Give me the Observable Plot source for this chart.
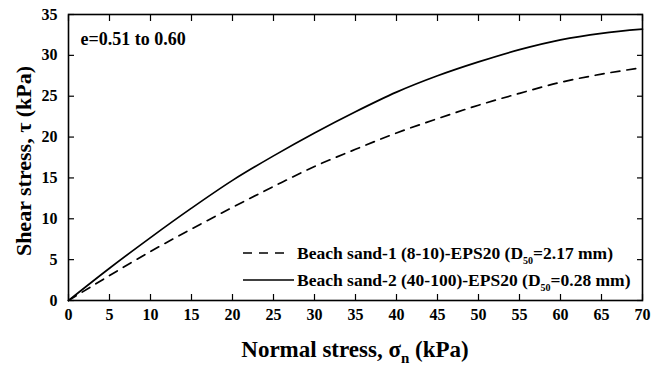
<!DOCTYPE html>
<html>
<head>
<meta charset="utf-8">
<script src="https://cdn.jsdelivr.net/npm/d3@7"></script>
<script src="https://cdn.jsdelivr.net/npm/@observablehq/plot@0.6"></script>
<style>
  body { margin: 0; background: #fff; }
  #chart svg { display: block; }
</style>
</head>
<body>
<div id="chart"></div>
<script>
// Normal stress (kPa)
const normalStress = [0, 5, 10, 15, 20, 25, 30, 35, 40, 45, 50, 55, 60, 65, 70];
// Beach sand-1 (8-10)-EPS20 (D50=2.17 mm) – dashed
const sand1Shear = [0, 3.05, 6.0, 8.75, 11.4, 13.95, 16.4, 18.5, 20.5, 22.25, 23.9, 25.35, 26.7, 27.7, 28.5];
// Beach sand-2 (40-100)-EPS20 (D50=0.28 mm) – solid
const sand2Shear = [0, 3.95, 7.7, 11.3, 14.7, 17.7, 20.5, 23.1, 25.5, 27.5, 29.2, 30.7, 31.9, 32.7, 33.2];

const seriesNames = [
  "Beach sand-1 (8-10)-EPS20 (D50=2.17 mm)",
  "Beach sand-2 (40-100)-EPS20 (D50=0.28 mm)"
];
const xTicks = [0, 5, 10, 15, 20, 25, 30, 35, 40, 45, 50, 55, 60, 65, 70];
const yTicks = [0, 5, 10, 15, 20, 25, 30, 35];
const annotation = "e=0.51 to 0.60";

const rows1 = normalStress.map((x, i) => ({x, y: sand1Shear[i]}));
const rows2 = normalStress.map((x, i) => ({x, y: sand2Shear[i]}));

const font = "Liberation Serif";

const chart = Plot.plot({
  width: 652,
  height: 366,
  marginLeft: 68,
  marginRight: 10,
  marginTop: 14,
  marginBottom: 66,
  style: {fontFamily: font, fontSize: "16px", fontWeight: "bold", color: "#000", background: "#fff"},
  x: {domain: [0, 70]},
  y: {domain: [0, 35]},
  marks: [
    Plot.frame({stroke: "#000", strokeWidth: 1.6}),
    Plot.axisX(xTicks, {anchor: "bottom", tickSize: -6, tickPadding: 14, label: null, strokeWidth: 1.2, fontSize: 16, fontWeight: "bold"}),
    Plot.axisX(xTicks, {anchor: "top", tickSize: -6, fill: "none", label: null, strokeWidth: 1.2}),
    Plot.axisY(yTicks, {anchor: "left", tickSize: -6, tickPadding: 17, label: null, strokeWidth: 1.2, fontSize: 16, fontWeight: "bold"}),
    Plot.axisY(yTicks, {anchor: "right", tickSize: -6, fill: "none", label: null, strokeWidth: 1.2}),
    Plot.line(rows1, {x: "x", y: "y", stroke: "#000", strokeWidth: 1.7, strokeDasharray: "9,7", curve: "monotone-x"}),
    Plot.line(rows2, {x: "x", y: "y", stroke: "#000", strokeWidth: 1.7, curve: "monotone-x"}),
    Plot.text([annotation], {text: d => d, frameAnchor: "top-left", lineAnchor: "middle", dx: 12, dy: 25, textAnchor: "start", fontSize: 18, fontWeight: "bold", fill: "#000"})
  ]
});

document.getElementById("chart").appendChild(chart);

const svg = d3.select(chart);

// Axis titles
const xt = svg.append("text")
  .attr("x", 355).attr("y", 357)
  .attr("text-anchor", "middle")
  .attr("font-family", font).attr("font-size", 23).attr("font-weight", "bold")
  .attr("fill", "#000");
xt.append("tspan").text("Normal stress, σ");
xt.append("tspan").text("n").attr("font-size", 15).attr("dy", 6);
xt.append("tspan").text(" (kPa)").attr("dy", -6);

svg.append("text")
  .attr("transform", "translate(31,161) rotate(-90)")
  .attr("text-anchor", "middle")
  .attr("font-family", font).attr("font-size", 22).attr("font-weight", "bold")
  .attr("fill", "#000")
  .text("Shear stress, τ (kPa)");

// Legend
const legendY = [253, 280];
const dashes = ["9,7", null];
seriesNames.forEach((name, i) => {
  const y = legendY[i];
  const ln = svg.append("line")
    .attr("x1", 243).attr("x2", i === 0 ? 285 : 294).attr("y1", y).attr("y2", y)
    .attr("stroke", "#000").attr("stroke-width", 1.7);
  if (dashes[i]) ln.attr("stroke-dasharray", dashes[i]);
  const m = name.match(/^(.*\(D)(50)(=.*)$/);
  const t = svg.append("text")
    .attr("x", 297).attr("y", y + 6)
    .attr("text-anchor", "start")
    .attr("font-family", font).attr("font-size", 17.5).attr("font-weight", "bold")
    .attr("fill", "#000");
  t.append("tspan").text(m[1]);
  t.append("tspan").text(m[2]).attr("font-size", 10).attr("dy", 5);
  t.append("tspan").text(m[3]).attr("dy", -5);
});
</script>
</body>
</html>
